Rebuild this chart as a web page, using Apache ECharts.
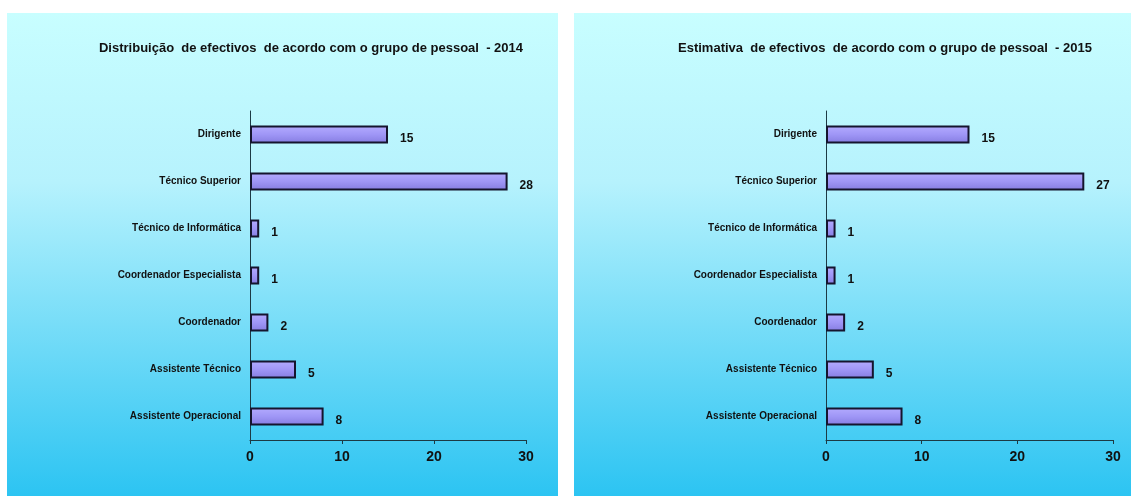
<!DOCTYPE html>
<html>
<head>
<meta charset="utf-8">
<script src="https://cdn.jsdelivr.net/npm/echarts@6/dist/echarts.min.js"></script>
<style>
html,body{margin:0;padding:0;background:#fff;}
#c{width:1131px;height:496px;}
</style>
</head>
<body>
<div id="c"></div>
<script>
var categories = ['Assistente Operacional','Assistente Técnico','Coordenador','Coordenador Especialista','Técnico de Informática','Técnico Superior','Dirigente'];
var values2014 = [8, 5, 2, 1, 1, 28, 15];
var values2015 = [8, 5, 2, 1, 1, 27, 15];
var xTicks = [0, 10, 20, 30];
var title2014 = 'Distribuição  de efectivos  de acordo com o grupo de pessoal  - 2014';
var title2015 = 'Estimativa  de efectivos  de acordo com o grupo de pessoal  - 2015';

var FONT = '"Liberation Sans", Arial, sans-serif';
var chart = echarts.init(document.getElementById('c'), null, {renderer:'canvas'});

function bg(x, w){
  return {
    type:'rect', left:x, top:13, z:-10,
    shape:{width:w, height:483},
    style:{fill:new echarts.graphic.LinearGradient(0,0,0,1,[
      {offset:0,color:'#c8feff'},{offset:0.35,color:'#b6f2fd'},{offset:1,color:'#2cc4f2'}])}
  };
}
function xAxis(gi){
  return {
    type:'value', gridIndex:gi, min:0, max:30, interval:10,
    axisLine:{show:true, lineStyle:{color:'#1c3a44', width:1}},
    axisTick:{show:true, length:4, lineStyle:{color:'#1c3a44'}},
    splitLine:{show:false},
    axisLabel:{fontFamily:FONT, fontWeight:'bold', fontSize:14, color:'#111', margin:10,
      formatter:function(v){ return xTicks.indexOf(v) >= 0 ? String(v) : ''; }}
  };
}
function yAxis(gi){
  return {
    type:'category', gridIndex:gi, data:categories,
    axisLine:{show:true, onZero:false, lineStyle:{color:'#1c3a44', width:1}},
    axisTick:{show:false},
    axisLabel:{fontFamily:FONT, fontWeight:'bold', fontSize:10, color:'#111', margin:9}
  };
}
function series(gi, data){
  return {
    type:'bar', xAxisIndex:gi, yAxisIndex:gi, data:data, barWidth:18,
    itemStyle:{
      color:new echarts.graphic.LinearGradient(0,0,0,1,[
        {offset:0,color:'#b4acff'},{offset:0.5,color:'#9f96f6'},{offset:1,color:'#857ce0'}]),
      borderColor:'#15152e', borderWidth:2
    },
    label:{show:true, position:'right', distance:12, offset:[0,4],
      fontFamily:FONT, fontWeight:'bold', fontSize:12, color:'#111'}
  };
}

chart.setOption({
  animation:false,
  graphic:[bg(7, 551), bg(574, 557)],
  title:[
    {text:title2014, left:306, top:37, textAlign:'center',
     textStyle:{fontFamily:FONT, fontWeight:'bold', fontSize:13, color:'#111'}},
    {text:title2015, left:880, top:37, textAlign:'center',
     textStyle:{fontFamily:FONT, fontWeight:'bold', fontSize:13, color:'#111'}}
  ],
  grid:[
    {left:250, right:1131-526, top:111, bottom:56, containLabel:false},
    {left:826, right:1131-1113, top:111, bottom:56, containLabel:false}
  ],
  xAxis:[xAxis(0), xAxis(1)],
  yAxis:[yAxis(0), yAxis(1)],
  series:[series(0, values2014), series(1, values2015)]
});
</script>
</body>
</html>
